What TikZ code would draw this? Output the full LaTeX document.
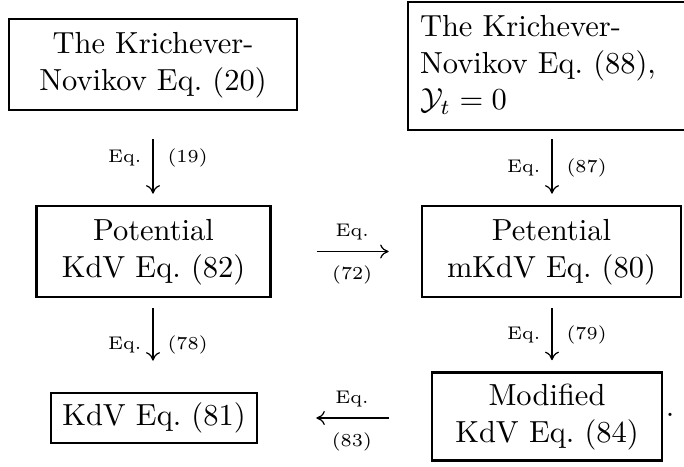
\documentclass[tikz,border=0pt]{standalone}
\usepackage{amsmath}
\usetikzlibrary{arrows.meta}
\begin{document}
\begin{tikzpicture}[x=0.3279pt,y=-0.3279pt,
  box/.style 2 args={draw,line width=0.85pt,inner sep=0pt,align=center,
    minimum width=#1*0.3279pt,minimum height=#2*0.3279pt,
    font=\fontsize{10}{12}\selectfont},
  lab/.style={font=\fontsize{6}{7}\selectfont,inner sep=0pt},
  arr/.style={-{Computer Modern Rightarrow[length=2.8pt,width=4.6pt]},line width=0.4pt}]
\useasboundingbox (0,0) rectangle (684,466);
\node[box={288}{91}] (k1) at (153,64.5) {\strut The Krichever-\\\strut Novikov Eq.~(20)};
\node[box={292}{128},align=left,text width=268*0.3279pt,inner xsep=12*0.3279pt] (k2) at (554,66)
  {\strut The Krichever-\\\strut Novikov Eq.~(88),\\\strut $\mathcal{Y}_t=0$};
\node[box={234}{91}] (p1) at (153.5,251.5) {\strut Potential\\\strut KdV Eq.~(82)};
\node[box={259}{91}] (p2) at (551.5,251.5) {\strut Petential\\\strut mKdV Eq.~(80)};
\node[box={206}{50}] (k) at (154,418) {\strut KdV Eq.~(81)};
\node[box={230}{88}] (m) at (547,416.5) {\strut Modified\\\strut KdV Eq.~(84)};
\node[font=\fontsize{10}{12}\selectfont,inner sep=0pt] (dot) at (670,415) {.};
% vertical arrows
\coordinate (c1) at (153,0);
\coordinate (c2) at (552,0);
\draw[arr,shorten <=28*0.3279pt,shorten >=11*0.3279pt] (k1.south -| c1) -- (p1.north -| c1)
  node[lab,midway,anchor=east,xshift=-11*0.3279pt] {Eq.}
  node[lab,midway,anchor=west,xshift=14*0.3279pt] {(19)};
\draw[arr,shorten <=8*0.3279pt,shorten >=11*0.3279pt] (k2.south -| c2) -- (p2.north -| c2)
  node[lab,midway,anchor=east,xshift=-11*0.3279pt] {Eq.}
  node[lab,midway,anchor=west,xshift=14*0.3279pt] {(87)};
\draw[arr,shorten <=10*0.3279pt,shorten >=31*0.3279pt] (p1.south -| c1) -- (k.north -| c1)
  node[lab,midway,anchor=east,xshift=-11*0.3279pt] {Eq.}
  node[lab,midway,anchor=west,xshift=14*0.3279pt] {(78)};
\draw[arr,shorten <=10*0.3279pt,shorten >=11*0.3279pt] (p2.south -| c2) -- (m.north -| c2)
  node[lab,midway,anchor=east,xshift=-11*0.3279pt] {Eq.}
  node[lab,midway,anchor=west,xshift=14*0.3279pt] {(79)};
% horizontal arrows
\draw[arr,shorten <=45*0.3279pt,shorten >=32*0.3279pt] (p1.east) -- (p2.west)
  node[lab,pos=0.54,yshift=19*0.3279pt] {Eq.}
  node[lab,pos=0.54,yshift=-23.5*0.3279pt] {(72)};
\draw[arr,shorten <=42*0.3279pt,shorten >=58*0.3279pt] (m.west |- k.east) -- (k.east)
  node[lab,pos=0.457,yshift=19*0.3279pt] {Eq.}
  node[lab,pos=0.457,yshift=-23.5*0.3279pt] {(83)};
\end{tikzpicture}
\end{document}
